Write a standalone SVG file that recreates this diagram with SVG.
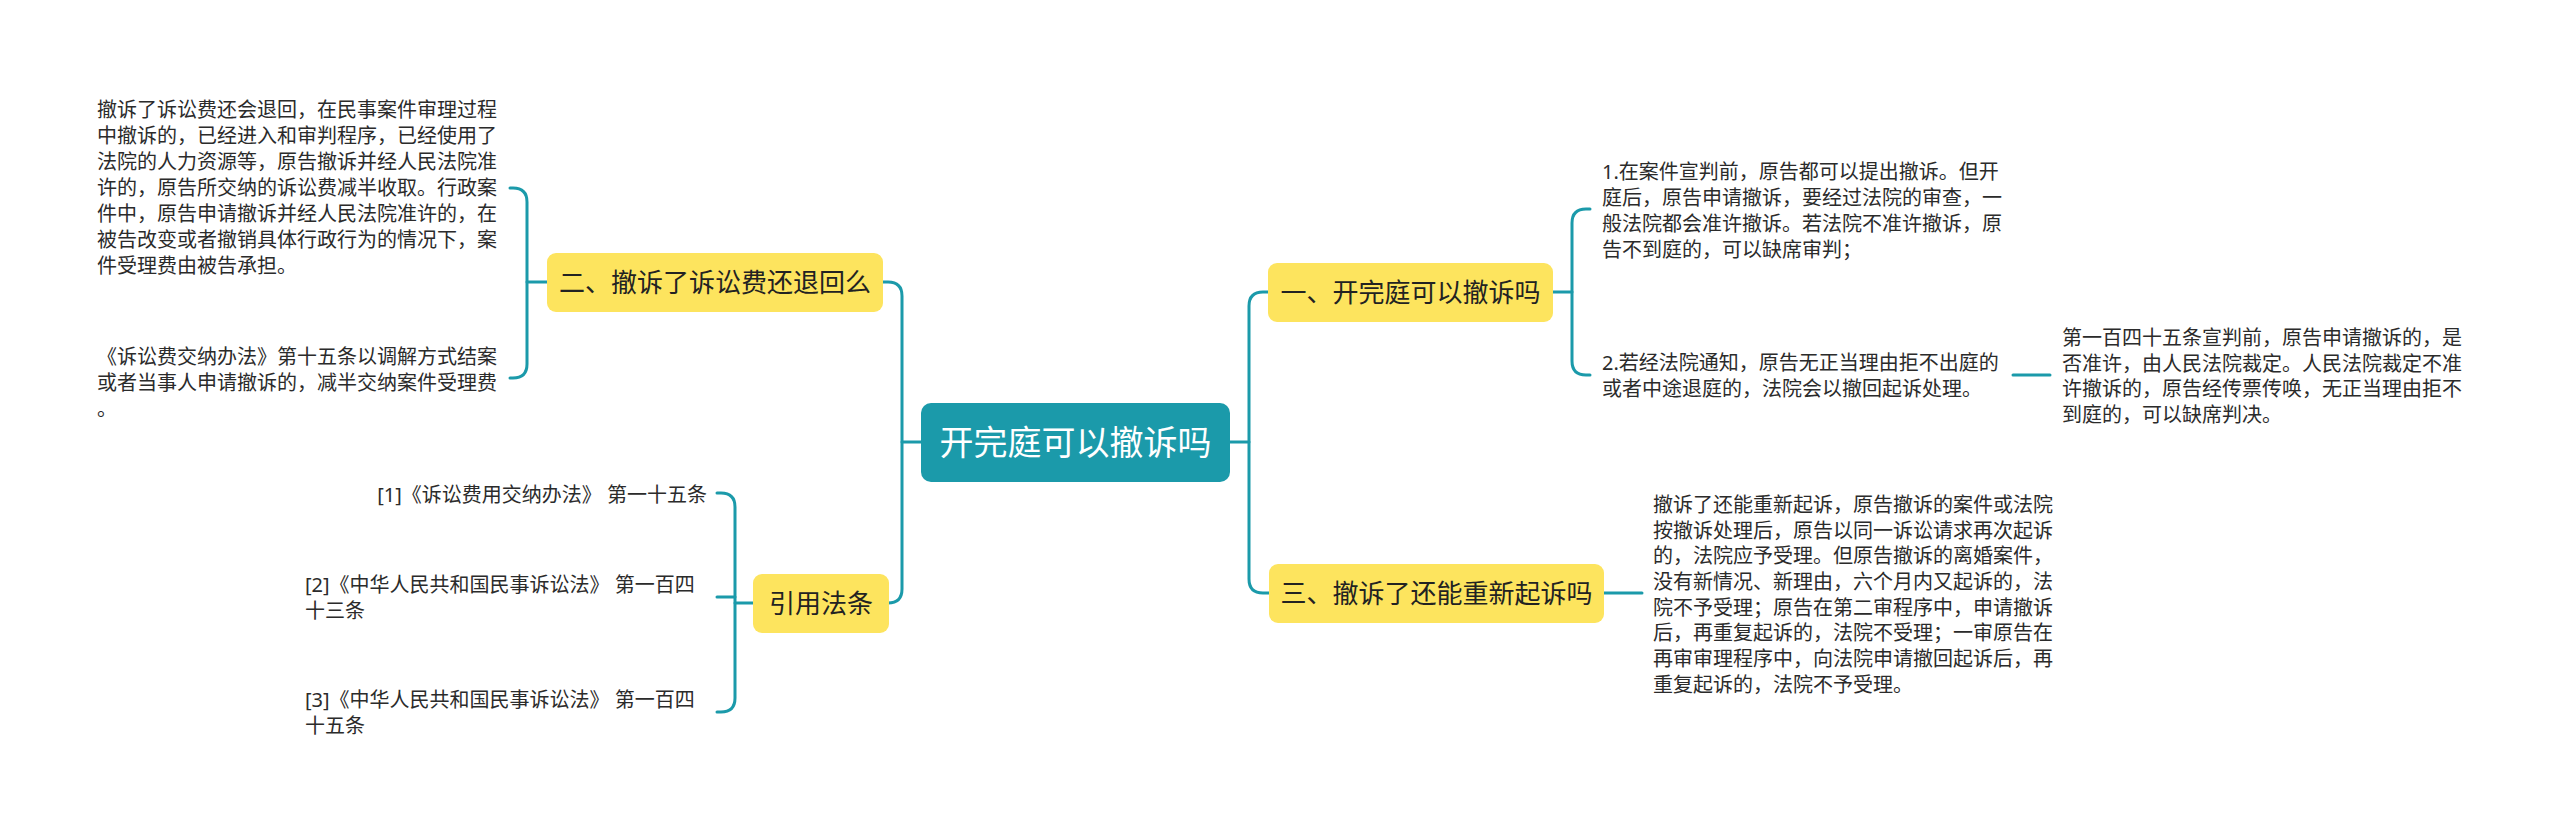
<svg xmlns="http://www.w3.org/2000/svg" width="2560" height="834" viewBox="0 0 2560 834">
<style>
.line{fill:none;stroke:#1B9AAA;stroke-width:3;stroke-linecap:round}
.box{fill:#FDE45E}
.root{fill:#1B9AAA}
.nt{font-family:"Noto Sans","Noto Sans CJK SC",sans-serif;font-size:26px;fill:#222;text-anchor:middle}
.rt{font-family:"Noto Sans","Noto Sans CJK SC",sans-serif;font-size:34px;fill:#fff;text-anchor:middle}
.lt{font-family:"Noto Sans","Noto Sans CJK SC",sans-serif;font-size:20px;fill:#2b2b2b}
</style>
<rect width="2560" height="834" fill="#fff"/>
<g id="connectors">
<path class="line" d="M1230,442 H1249"/>
<path class="line" d="M1268,292 H1263 Q1249,292 1249,306 V579 Q1249,593 1263,593 H1269"/>
<path class="line" d="M921,442 H902"/>
<path class="line" d="M883,282 H888 Q902,282 902,296 V589 Q902,603 888,603 H889"/>
<path class="line" d="M1553,292 H1572"/>
<path class="line" d="M1590,209 H1586 Q1572,209 1572,223 V361 Q1572,375 1586,375 H1590"/>
<path class="line" d="M2013,375 H2050"/>
<path class="line" d="M1604,593 H1642"/>
<path class="line" d="M547,282 H527"/>
<path class="line" d="M510,188 H513 Q527,188 527,202 V364 Q527,378 513,378 H510"/>
<path class="line" d="M753,603 H735"/>
<path class="line" d="M717,493 H721 Q735,493 735,507 V698 Q735,712 721,712 H717"/>
<path class="line" d="M717,597 H735"/>
</g>
<g id="root">
<rect class="root" x="921" y="403" width="309" height="79" rx="10"/>
<text class="rt" x="1075.5" y="455">开完庭可以撤诉吗</text>
</g>
<g id="n1">
<rect class="box" x="1268" y="263" width="285" height="59" rx="9"/>
<text class="nt" x="1410.5" y="302">一、开完庭可以撤诉吗</text>
</g>
<g id="n2">
<rect class="box" x="547" y="253" width="336" height="59" rx="9"/>
<text class="nt" x="715" y="292">二、撤诉了诉讼费还退回么</text>
</g>
<g id="n3">
<rect class="box" x="1269" y="564" width="335" height="59" rx="9"/>
<text class="nt" x="1436.5" y="603">三、撤诉了还能重新起诉吗</text>
</g>
<g id="n4">
<rect class="box" x="753" y="574" width="136" height="59" rx="9"/>
<text class="nt" x="821" y="613">引用法条</text>
</g>
<g id="n1a">
<text class="lt" x="1602" y="179">1.在案件宣判前，原告都可以提出撤诉。但开</text>
<text class="lt" x="1602" y="205">庭后，原告申请撤诉，要经过法院的审查，一</text>
<text class="lt" x="1602" y="231">般法院都会准许撤诉。若法院不准许撤诉，原</text>
<text class="lt" x="1602" y="257">告不到庭的，可以缺席审判；</text>
</g>
<g id="n1b">
<text class="lt" x="1602" y="370">2.若经法院通知，原告无正当理由拒不出庭的</text>
<text class="lt" x="1602" y="396">或者中途退庭的，法院会以撤回起诉处理。</text>
</g>
<g id="n1b1">
<text class="lt" x="2062" y="345">第一百四十五条宣判前，原告申请撤诉的，是</text>
<text class="lt" x="2062" y="371">否准许，由人民法院裁定。人民法院裁定不准</text>
<text class="lt" x="2062" y="396">许撤诉的，原告经传票传唤，无正当理由拒不</text>
<text class="lt" x="2062" y="422">到庭的，可以缺席判决。</text>
</g>
<g id="n3a">
<text class="lt" x="1653" y="512">撤诉了还能重新起诉，原告撤诉的案件或法院</text>
<text class="lt" x="1653" y="538">按撤诉处理后，原告以同一诉讼请求再次起诉</text>
<text class="lt" x="1653" y="563">的，法院应予受理。但原告撤诉的离婚案件，</text>
<text class="lt" x="1653" y="589">没有新情况、新理由，六个月内又起诉的，法</text>
<text class="lt" x="1653" y="615">院不予受理；原告在第二审程序中，申请撤诉</text>
<text class="lt" x="1653" y="640">后，再重复起诉的，法院不受理；一审原告在</text>
<text class="lt" x="1653" y="666">再审审理程序中，向法院申请撤回起诉后，再</text>
<text class="lt" x="1653" y="692">重复起诉的，法院不予受理。</text>
</g>
<g id="n2a">
<text class="lt" x="97" y="117">撤诉了诉讼费还会退回，在民事案件审理过程</text>
<text class="lt" x="97" y="143">中撤诉的，已经进入和审判程序，已经使用了</text>
<text class="lt" x="97" y="169">法院的人力资源等，原告撤诉并经人民法院准</text>
<text class="lt" x="97" y="195">许的，原告所交纳的诉讼费减半收取。行政案</text>
<text class="lt" x="97" y="221">件中，原告申请撤诉并经人民法院准许的，在</text>
<text class="lt" x="97" y="247">被告改变或者撤销具体行政行为的情况下，案</text>
<text class="lt" x="97" y="273">件受理费由被告承担。</text>
</g>
<g id="n2b">
<text class="lt" x="97" y="364">《诉讼费交纳办法》第十五条以调解方式结案</text>
<text class="lt" x="97" y="390">或者当事人申请撤诉的，减半交纳案件受理费</text>
<text class="lt" x="97" y="416">。</text>
</g>
<g id="r1">
<text class="lt" x="707" y="502" text-anchor="end">[1]《诉讼费用交纳办法》 第一十五条</text>
</g>
<g id="r2">
<text class="lt" x="305" y="592">[2]《中华人民共和国民事诉讼法》 第一百四</text>
<text class="lt" x="305" y="618">十三条</text>
</g>
<g id="r3">
<text class="lt" x="305" y="707">[3]《中华人民共和国民事诉讼法》 第一百四</text>
<text class="lt" x="305" y="733">十五条</text>
</g>
</svg>
